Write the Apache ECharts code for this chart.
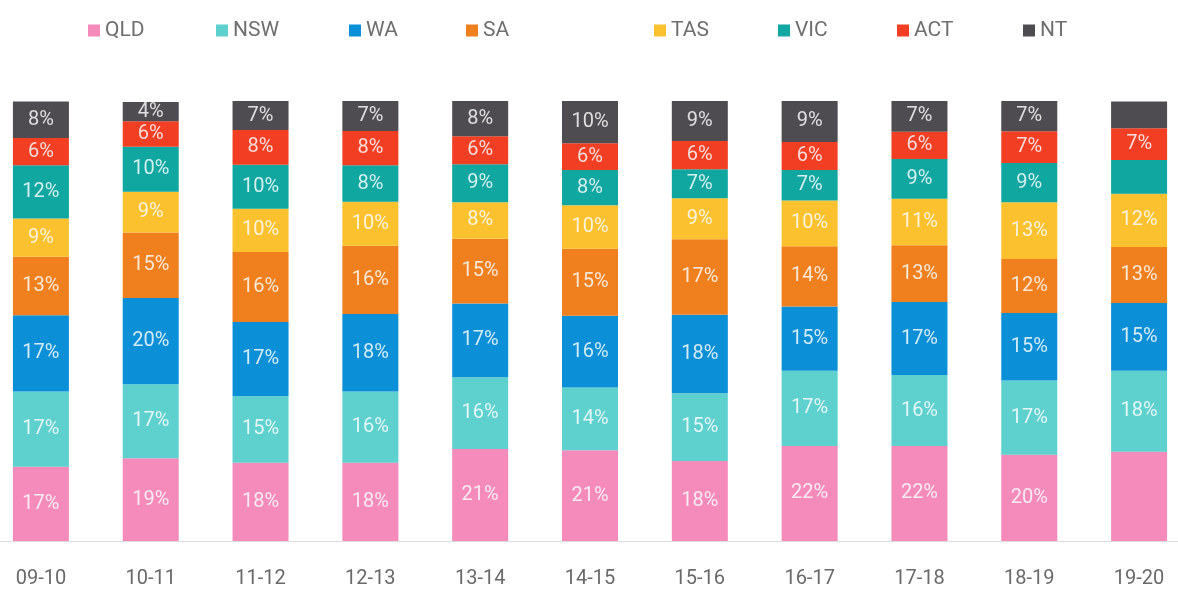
<!DOCTYPE html>
<html>
<head>
<meta charset="UTF-8">
<title>State share</title>
<script src="https://cdn.jsdelivr.net/npm/echarts@6/dist/echarts.min.js"></script>
<style>
  html, body { margin: 0; padding: 0; background: #fff; overflow: hidden; }
  /* chart is wider than the window: first and last bands run past the edges */
  #main { position: absolute; left: -14px; top: 0; width: 1208px; height: 589px; }
</style>
</head>
<body>
<div id="main"></div>
<script>
// financial years
var years = ['09-10', '10-11', '11-12', '12-13', '13-14', '14-15', '15-16', '16-17', '17-18', '18-19', '19-20'];

// share of each state per year (%)
var qld = [16.9, 18.8, 17.8, 17.8, 20.9, 20.6, 18.2, 21.6, 21.6, 19.6, 20.3];
var nsw = [17.1, 16.8, 15.1, 16.2, 16.3, 14.3, 15.4, 17.1, 16.1, 16.9, 18.4];
var wa  = [17.3, 19.6, 16.9, 17.6, 16.8, 16.3, 17.8, 14.6, 16.6, 15.3, 15.4];
var sa  = [13.3, 14.9, 15.9, 15.5, 14.7, 15.2, 17.2, 13.7, 12.9, 12.3, 12.7];
var tas = [8.7, 9.3, 9.8, 10.0, 8.3, 9.9, 9.3, 10.4, 10.6, 12.9, 12.1];
var vic = [12.1, 10.2, 10.0, 8.3, 8.6, 8.0, 6.6, 6.9, 9.0, 8.9, 7.7];
var act = [6.2, 5.8, 7.9, 7.8, 6.4, 6.1, 6.4, 6.4, 6.2, 7.2, 7.2];
var nt  = [8.3, 4.4, 6.6, 6.8, 8.0, 9.7, 9.1, 9.3, 7.0, 6.9, 6.1];

var names = ['QLD', 'NSW', 'WA', 'SA', 'TAS', 'VIC', 'ACT', 'NT'];
var values = [qld, nsw, wa, sa, tas, vic, act, nt];
var colors = ['#f58bbb', '#5ed0cd', '#0b8fd7', '#f07f1e', '#fbc12f', '#10a7a1', '#f23e23', '#4e4c50'];

// segments that carry no label in the original (last year)
var unlabeled = { QLD: [10], VIC: [10], NT: [10] };

// legend item x positions in window pixels
var legendLeft = [83, 211, 344, 461, 649, 773, 892, 1018];
var shift = 14;

var myChart = echarts.init(document.getElementById('main'));

var legends = [];
var series = [];
for (var i = 0; i < names.length; i++) {
  legends.push({
    left: legendLeft[i] + shift,
    top: 15,
    data: [names[i]],
    icon: 'rect',
    itemWidth: 12,
    itemHeight: 12,
    itemGap: 0,
    selectedMode: false,
    textStyle: { color: '#6f6f6f', fontSize: 21, fontFamily: 'Roboto' }
  });
  series.push({
    name: names[i],
    type: 'bar',
    stack: 'all',
    barWidth: 56,
    data: values[i],
    itemStyle: { color: colors[i] },
    label: {
      show: true,
      position: 'inside',
      color: 'rgba(255,255,255,0.82)',
      fontSize: 20,
      fontFamily: 'Roboto',
      formatter: function (p) {
        var skip = unlabeled[p.seriesName];
        if (skip && skip.indexOf(p.dataIndex) >= 0) return '';
        return Math.round(p.value) + '%';
      }
    }
  });
}

var option = {
  animation: false,
  color: colors,
  legend: legends,
  grid: { left: 0, right: 0, top: 101, bottom: 48, containLabel: false },
  xAxis: {
    type: 'category',
    data: years,
    axisTick: { show: false },
    axisLine: { lineStyle: { color: '#dcdcdc', width: 1 } },
    axisLabel: { color: '#6a6a6a', fontSize: 20, fontFamily: 'Roboto', margin: 28 }
  },
  yAxis: {
    type: 'value',
    min: 0,
    max: 100,
    show: false,
    splitLine: { show: false }
  },
  series: series
};
myChart.setOption(option);
</script>
</body>
</html>
